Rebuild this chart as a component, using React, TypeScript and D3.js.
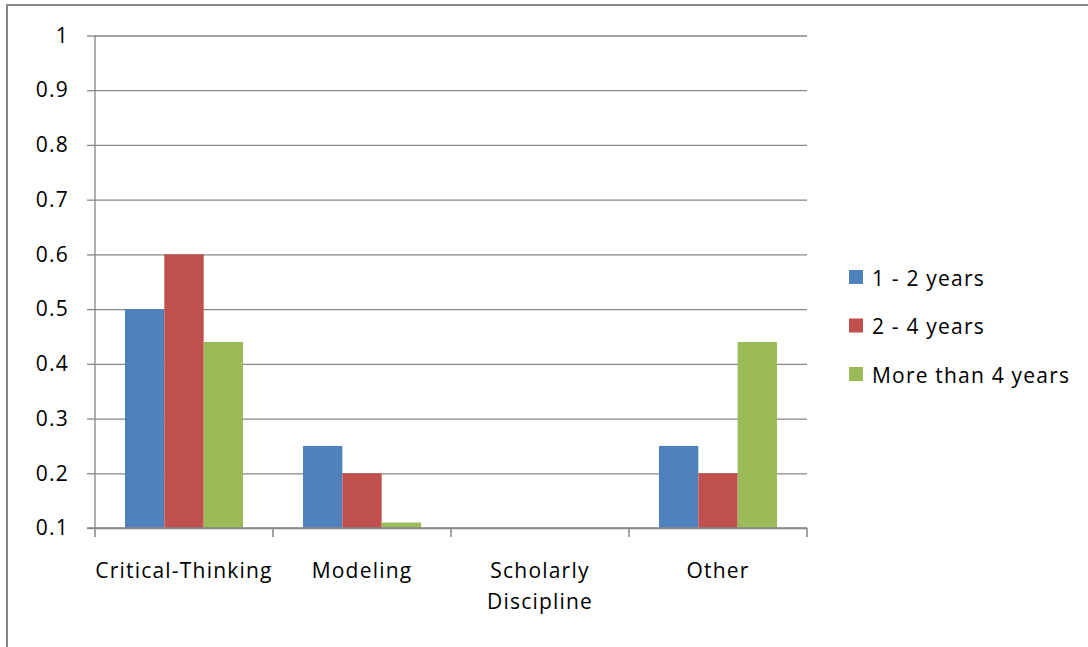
import * as d3 from "d3";
import { useRef, useEffect } from "react";

const categories = ["Critical-Thinking", "Modeling", "Scholarly Discipline", "Other"];
const seriesNames = ["1 - 2 years", "2 - 4 years", "More than 4 years"];
const oneToTwo = [0.5, 0.25, 0, 0.25];
const twoToFour = [0.6, 0.2, 0, 0.2];
const moreThanFour = [0.44, 0.11, 0, 0.44];
const yTicks = [0.1, 0.2, 0.3, 0.4, 0.5, 0.6, 0.7, 0.8, 0.9, 1];
const colors = ["#4f81bd", "#c0504d", "#9bbb59"];

export default function App() {
  const ref = useRef<SVGSVGElement>(null);

  useEffect(() => {
    const svg = d3.select(ref.current);
    svg.selectAll("*").remove();

    const w = 1088, h = 647;
    const left = 95, right = 807, top = 35.5, bottom = 528;
    const font = "'Open Sans', Lato, sans-serif";
    const fs = 21, ls = 1.2;
    const gray = "#868686";

    // chart border (only top and left visible)
    svg.append("line").attr("x1", 7).attr("x2", w).attr("y1", 5).attr("y2", 5)
      .attr("stroke", gray).attr("stroke-width", 2);
    svg.append("line").attr("x1", 7).attr("x2", 7).attr("y1", 4).attr("y2", h)
      .attr("stroke", gray).attr("stroke-width", 2);

    const x0 = d3.scaleBand().domain(categories).range([left, right]).paddingInner(0).paddingOuter(0);
    const inner = d3.scaleBand().domain(seriesNames)
      .range([30, x0.bandwidth() - 30]);
    const y = d3.scaleLinear().domain([0.1, 1]).range([bottom, top]);

    // gridlines
    svg.append("g")
      .attr("transform", `translate(${left},0)`)
      .call(d3.axisLeft(y).tickValues(yTicks).tickSize(-(right - left)).tickFormat(() => ""))
      .call(g => g.select(".domain").remove())
      .call(g => g.selectAll(".tick line").attr("stroke", gray).attr("stroke-width", 1.3));

    // y axis with tick marks and labels
    const ya = svg.append("g")
      .attr("transform", `translate(${left},0)`)
      .call(d3.axisLeft(y).tickValues(yTicks).tickSize(8).tickPadding(18)
        .tickFormat(d => d3.format("")(+(+d).toFixed(1))));
    ya.select(".domain").attr("stroke", gray).attr("stroke-width", 1.3).attr("d", `M0,${top}V${bottom}`);
    ya.selectAll(".tick line").attr("stroke", gray).attr("stroke-width", 1.3);
    ya.selectAll(".tick text").attr("font-family", font).attr("font-size", fs)
      .attr("letter-spacing", ls).attr("fill", "#000");

    const data = categories.map((c, i) => ({
      cat: c,
      vals: [oneToTwo[i], twoToFour[i], moreThanFour[i]],
    }));

    // bars
    const groups = svg.append("g").selectAll("g").data(data).join("g")
      .attr("transform", d => `translate(${x0(d.cat)},0)`);
    groups.selectAll("rect")
      .data(d => d.vals.map((v, k) => ({ v, k })))
      .join("rect")
      .attr("x", d => inner(seriesNames[d.k])!)
      .attr("width", inner.bandwidth())
      .attr("y", d => y(Math.max(d.v, 0.1)))
      .attr("height", d => bottom - y(Math.max(d.v, 0.1)))
      .attr("fill", d => colors[d.k]);

    // x axis
    const xa = svg.append("g").attr("transform", `translate(0,${bottom})`);
    xa.append("line").attr("x1", left - 8).attr("x2", right).attr("y1", 0).attr("y2", 0)
      .attr("stroke", gray).attr("stroke-width", 1.5);
    const edges = categories.map(c => x0(c)!).concat([right]);
    xa.selectAll("line.tk").data(edges).join("line").attr("class", "tk")
      .attr("x1", d => d).attr("x2", d => d).attr("y1", 0).attr("y2", 9)
      .attr("stroke", gray).attr("stroke-width", 1.5);
    const labels = xa.selectAll("text").data(categories).join("text")
      .attr("x", d => x0(d)! + x0.bandwidth() / 2)
      .attr("y", 50)
      .attr("text-anchor", "middle")
      .attr("font-family", font).attr("font-size", fs).attr("letter-spacing", ls).attr("fill", "#000");
    labels.each(function (d) {
      const words = d === "Scholarly Discipline" ? ["Scholarly", "Discipline"] : [d];
      const t = d3.select(this);
      words.forEach((wd, i) => {
        t.append("tspan").attr("x", x0(d)! + x0.bandwidth() / 2).attr("dy", i === 0 ? 0 : 31).text(wd);
      });
    });

    // legend
    const lg = svg.append("g").attr("transform", "translate(849,277)");
    const items = lg.selectAll("g").data(seriesNames).join("g")
      .attr("transform", (d, i) => `translate(0,${i * 48.5})`);
    items.append("rect").attr("x", 0).attr("y", -7).attr("width", 14).attr("height", 14)
      .attr("fill", (d, i) => colors[i]);
    items.append("text").attr("x", 23).attr("y", 8.5)
      .attr("font-family", font).attr("font-size", fs).attr("letter-spacing", ls).attr("fill", "#000")
      .text(d => d);
  }, []);

  return (
    <svg
      ref={ref}
      width={1088}
      height={647}
      style={{ position: "absolute", left: 0, top: 0, background: "#fff" }}
    />
  );
}
